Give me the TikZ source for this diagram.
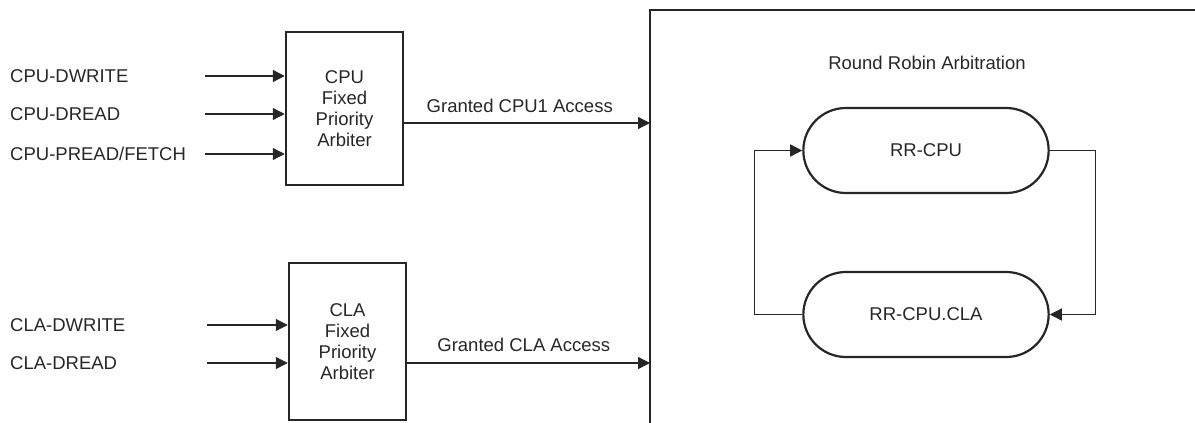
\documentclass[tikz,border=0pt]{standalone}
\usepackage{fontspec}
\setmainfont{Liberation Sans}
\usetikzlibrary{arrows.meta, positioning, shapes.misc}

\tikzset{
    arbiter/.style={draw, line width=2.5pt, align=center, minimum width=117pt},
    rrstate/.style={draw, rounded rectangle, line width=2.2pt, minimum width=252pt, minimum height=85pt},
    sig/.style={line width=1.3pt, -{Triangle[length=12pt, width=12pt]}},
    lbl/.style={anchor=west, inner sep=0pt},
}

\begin{document}
\begin{tikzpicture}[x=1pt, y=-1pt, font=\fontsize{18.5}{21}\selectfont, color={black!85}]
    \useasboundingbox (0,0) rectangle (1195,423);

    % fixed priority arbiters
    \node[arbiter, minimum height=153pt] (cpuarb) at (344.5,108.5) {CPU\\Fixed\\Priority\\Arbiter};
    \node[arbiter, minimum height=157pt] (claarb) at (347.5,341.5) {CLA\\Fixed\\Priority\\Arbiter};

    % round robin frame, open at the right and bottom
    \coordinate (rr) at (650,10);
    \draw[line width=2.5pt] (650,423) -- (rr) -- (1195,10);
    \node (rrtitle) at (927,63) {Round Robin Arbitration};

    % input requests
    \node[lbl] (cpudw) at (10,76)  {CPU-DWRITE};
    \node[lbl] (cpudr) at (10,114) {CPU-DREAD};
    \node[lbl] (cpupr) at (10,154) {CPU-PREAD/FETCH};
    \node[lbl] (cladw) at (10,325) {CLA-DWRITE};
    \node[lbl] (cladr) at (10,363) {CLA-DREAD};
    \foreach \sname in {cpudw, cpudr, cpupr} {
        \coordinate (\sname-in) at (205,0 |- \sname);
        \draw[sig] (\sname-in) -- (\sname-in -| cpuarb.west);
    }
    \foreach \sname in {cladw, cladr} {
        \coordinate (\sname-in) at (207,0 |- \sname);
        \draw[sig] (\sname-in) -- (\sname-in -| claarb.west);
    }

    % granted access
    \coordinate (gcpu) at (0,123);
    \coordinate (gcla) at (0,363);
    \draw[sig] (cpuarb.east |- gcpu) -- node[above=6pt, pos=0.47] (gcpulbl) {Granted CPU1 Access} (rr |- gcpu);
    \draw[sig] (claarb.east |- gcla) -- node[above=7pt, pos=0.48] (gclalbl) {Granted CLA Access} (rr |- gcla);

    % round robin states
    \node[rrstate] (rrcpu) at (926,150.5) {RR-CPU};
    \node[rrstate] (rrcla) at (926,314.5) {RR-CPU.CLA};
    \draw[sig] (rrcla.west) -- ++(-48,0) |- (rrcpu.west);
    \draw[sig] (rrcpu.east) -- ++(46,0) |- (rrcla.east);
\end{tikzpicture}
\end{document}
